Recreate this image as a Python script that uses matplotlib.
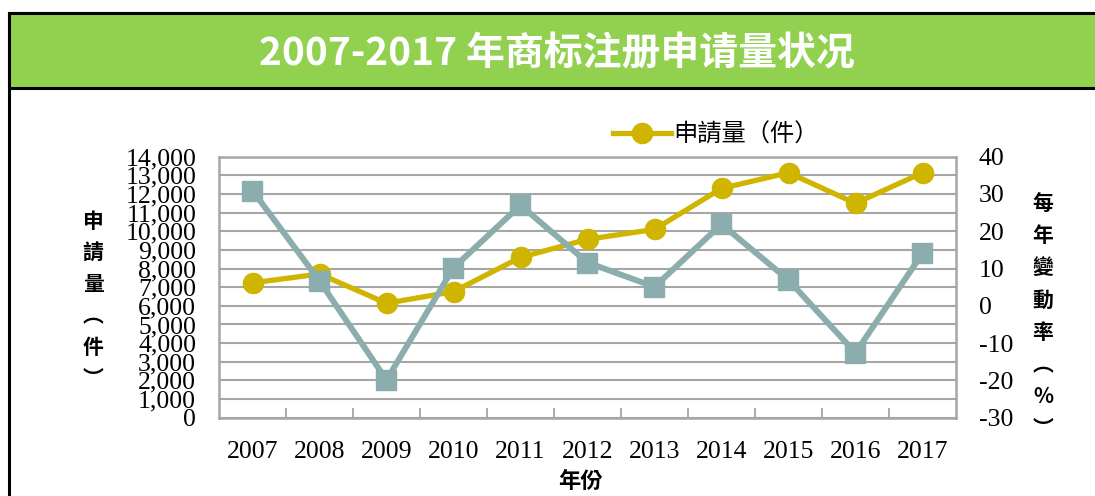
# 2007-2017 年商标注册申请量状况 —— 双轴折线图

import matplotlib.pyplot as plt
from matplotlib.patches import Rectangle
from matplotlib.lines import Line2D
from matplotlib.ticker import FuncFormatter, MultipleLocator

plt.rcParams['axes.unicode_minus'] = False

# 数据
years = ['2007', '2008', '2009', '2010', '2011', '2012',
         '2013', '2014', '2015', '2016', '2017']
applications = [7230, 7710, 6140, 6760, 8600, 9570,
                10100, 12300, 13140, 11500, 13140]
change_rate = [30.9, 6.7, -19.9, 10.2, 27.0, 11.6,
               5.1, 21.9, 6.9, -12.6, 14.1]

yellow = '#CFB400'
teal = '#8CADAD'
grid_grey = '#A6A6A6'
serif = ['Liberation Serif', 'DejaVu Serif']
cjk_bold = ['Noto Sans CJK TC', 'DejaVu Sans']

fig = plt.figure(figsize=(10.95, 4.96), dpi=100)
W, H = 1095, 496

# 外框和绿色标题栏
fig.patches.append(Rectangle((9 / W, -0.1), 1, (H - 13) / H + 0.1, transform=fig.transFigure,
                             facecolor='white', edgecolor='black', linewidth=2.2, zorder=-2))
fig.patches.append(Rectangle((9 / W, (H - 88) / H), 1, 75 / H, transform=fig.transFigure,
                             facecolor='#92D050', edgecolor='black', linewidth=2.2, zorder=-1))
fig.text(557 / W, 1 - 54 / H, '2007-2017 年商标注册申请量状况', color='white',
         fontsize=28, fontweight='bold', family=['Noto Sans CJK SC', 'DejaVu Sans'],
         ha='center', va='center')

ax = fig.add_axes([219 / W, 1 - 417.7 / H, (956 - 219) / W, (417.7 - 156.7) / H])
x = list(range(len(years)))

# 申请量（左轴）
ax.plot(x, applications, color=yellow, linewidth=3.8, marker='o', markersize=14.5,
        solid_capstyle='round', zorder=3)
ax.set_xlim(-0.5, len(years) - 0.5)
ax.set_ylim(0, 14000)
ax.yaxis.set_major_locator(MultipleLocator(1000))
ax.yaxis.set_major_formatter(FuncFormatter(lambda v, p: f'{int(v):,}'))
ax.set_xticks(x)
ax.set_xticklabels(years)
ax.set_xticks([i + 0.5 for i in x[:-1]], minor=True)
ax.tick_params(axis='x', which='major', length=0, pad=17)
ax.tick_params(axis='x', which='minor', direction='in', length=7, width=1.3, color=grid_grey)
ax.tick_params(axis='y', length=0, pad=16.5)
ax.grid(axis='y', color=grid_grey, linewidth=1.5)
ax.set_axisbelow(True)
for s in ax.spines.values():
    s.set_color(grid_grey)
    s.set_linewidth(1.8)
for lab in ax.get_xticklabels() + ax.get_yticklabels():
    lab.set_family(serif)
    lab.set_fontsize(18.5)

# 每年变动率（右轴）
ax2 = ax.twinx()
ax2.plot(x, change_rate, color=teal, linewidth=4.3, marker='s', markersize=14, zorder=3)
ax2.set_ylim(-30, 40)
ax2.yaxis.set_major_locator(MultipleLocator(10))
ax2.tick_params(axis='y', length=0, pad=16.5)
for s in ax2.spines.values():
    s.set_visible(False)
for lab in ax2.get_yticklabels():
    lab.set_family(serif)
    lab.set_fontsize(18.5)

# 轴标题（竖排）
fig.text(93 / W, 1 - 300 / H, '申\n請\n量\n︵\n件\n︶', family=cjk_bold, fontweight='bold',
         fontsize=15, ha='center', va='center', linespacing=1.62)
fig.text(1043 / W, 1 - 316 / H, '每\n年\n變\n動\n率\n︵\n%\n︶', family=cjk_bold,
         fontweight='bold', fontsize=15, ha='center', va='center', linespacing=1.66)
fig.text(580 / W, 1 - 481 / H, '年份', family=cjk_bold, fontweight='bold',
         fontsize=16, ha='center', va='center')

# 图例
handle = Line2D([], [], color=yellow, linewidth=3.8, marker='o', markersize=14.5)
fig.legend([handle], ['申請量（件）'], loc='center', bbox_to_anchor=(716 / W, 1 - 135 / H),
           frameon=False, handlelength=2.4, handletextpad=0.1,
           prop={'family': ['Noto Sans CJK TC', 'DejaVu Sans'], 'size': 17.5})

plt.savefig('out.png', dpi=100)
